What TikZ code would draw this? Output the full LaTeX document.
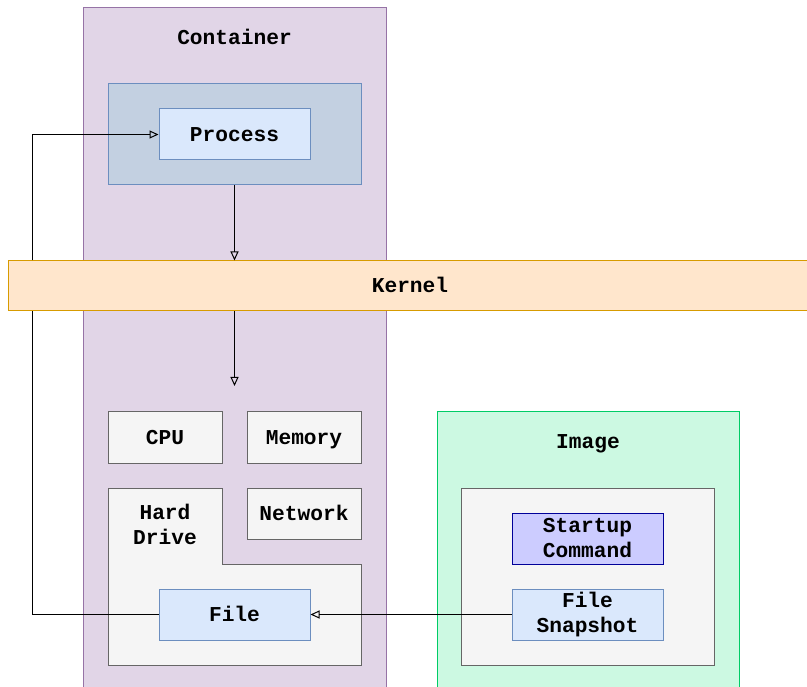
\documentclass[tikz,border=0pt]{standalone}
\usepackage{fontspec}
\setmainfont{Liberation Mono}
\usetikzlibrary{arrows.meta}

\definecolor{contfill}{HTML}{E1D5E7}
\definecolor{contline}{HTML}{9673A6}
\definecolor{procfill}{HTML}{C3D0E1}
\definecolor{bluefill}{HTML}{DAE8FC}
\definecolor{blueline}{HTML}{6C8EBF}
\definecolor{kernfill}{HTML}{FFE6CC}
\definecolor{kernline}{HTML}{D79B00}
\definecolor{grayfill}{HTML}{F5F5F5}
\definecolor{grayline}{HTML}{666666}
\definecolor{imgfill}{HTML}{CCF9E2}
\definecolor{imgline}{HTML}{00CC66}
\definecolor{cmdfill}{HTML}{CCCCFF}
\definecolor{cmdline}{HTML}{000099}

\begin{document}
\begin{tikzpicture}[x=1pt,y=-1pt,
  lbl/.style={font=\bfseries\fontsize{21.2}{25}\selectfont, align=center, inner sep=0pt},
  oneline/.style={text height=13.5pt, text depth=0pt},
  box/.style={lbl, draw, line width=1pt, rectangle, minimum width=#1},
  box/.default=151pt,
  ctbox/.style={draw=contline, fill=contfill, line width=1pt, minimum width=303pt, minimum height=692pt, inner sep=0pt},
  outerbox/.style={draw=blueline, fill=procfill, line width=1pt, minimum width=253pt, minimum height=101pt, inner sep=0pt},
  bluebox/.style={box, fill=bluefill, draw=blueline, minimum height=51pt},
  graybox/.style={box=114pt, oneline, fill=grayfill, draw=grayline, minimum height=51pt},
  hdbox/.style={fill=grayfill, draw=grayline, line width=1pt, line join=miter},
  kernbox/.style={lbl, oneline, draw=kernline, fill=kernfill, line width=1pt, minimum width=804pt, minimum height=50pt},
  imgbox/.style={draw=imgline, fill=imgfill, line width=1pt, minimum width=302pt, minimum height=288pt, inner sep=0pt},
  panel/.style={draw=grayline, fill=grayfill, line width=1pt, minimum width=253pt, minimum height=177pt, inner sep=0pt},
  cmdbox/.style={box, fill=cmdfill, draw=cmdline, minimum height=51pt},
  conn/.style={line width=1pt, black},
  arr/.style={conn, -{Triangle[open, length=9pt, width=8pt]}}
]
\useasboundingbox (0,0) rectangle (807,687);

% container column
\node[ctbox] (container) at (234.5,354) {};
\node[lbl, oneline] (ctitle) at (234.5,38) {Container};

% process group
\node[outerbox] (procouter) at (234.5,134.5) {};
\node[bluebox, oneline] (process) at (234.5,134.5) {Process};

% resources
\node[graybox] (cpu) at (165,437.5) {CPU};
\node[graybox] (memory) at (304,437.5) {Memory};
\node[graybox] (network) at (304,513.5) {Network};
\draw[hdbox] (108,488) -- (222,488) -- (222,564) -- (361,564) -- (361,665) -- (108,665) -- cycle;
\node[lbl] (harddrive) at (165,524.5) {Hard\\Drive};
\node[bluebox, oneline] (file) at (234.5,614.5) {File};

% image
\node[imgbox] (image) at (588,556) {};
\node[lbl, oneline] (ititle) at (588,442) {Image};
\node[panel] (ipanel) at (587.5,576.5) {};
\node[cmdbox] (startup) at (587.5,538.5) {Startup\\Command};
\node[bluebox] (snapshot) at (587.5,614.5) {File\\Snapshot};

% kernel band
\node[kernbox] (kernel) at (410,286) {Kernel};

% connectors
\coordinate (loopx) at (32,0);
\coordinate (hwtop) at (234.5,386);
\draw[arr] (procouter.south) -- (procouter.south |- kernel.north);
\draw[arr] (kernel.south -| hwtop) -- (hwtop);
\draw[arr] (snapshot.west) -- (file.east);
\draw[conn] (file.west) -- (file.west -| loopx) -- (kernel.south -| loopx);
\draw[arr] (kernel.north -| loopx) |- (process.west);
\end{tikzpicture}
\end{document}
